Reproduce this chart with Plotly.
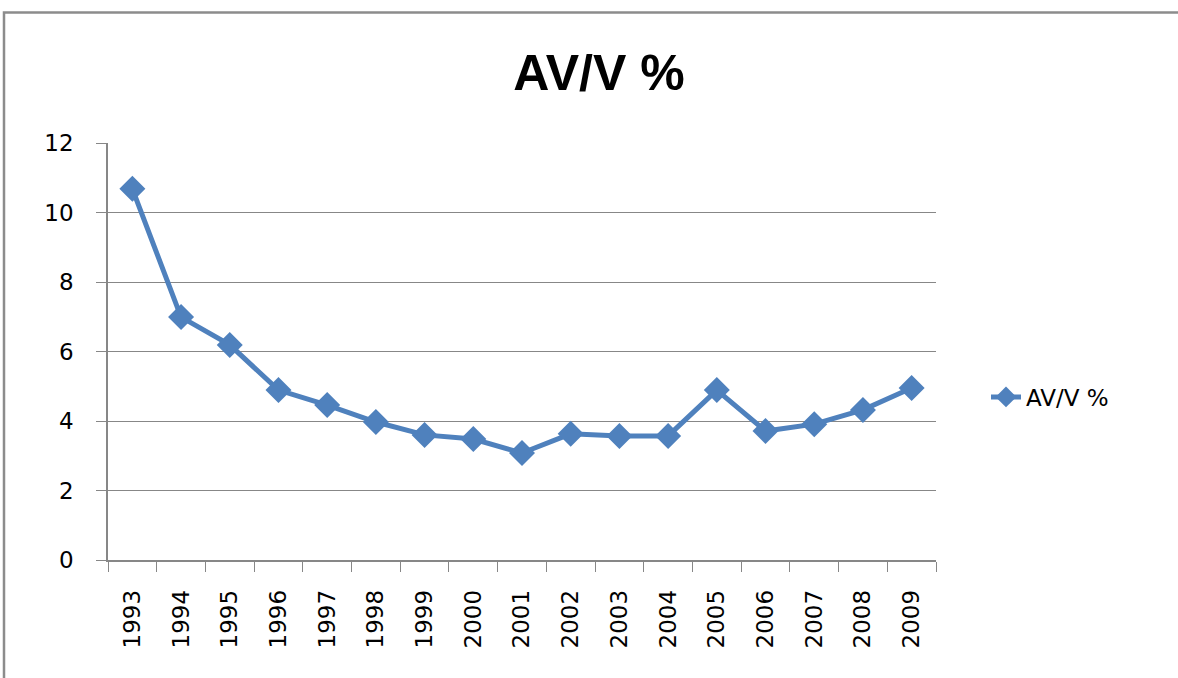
import plotly.graph_objects as go

years = ["1993", "1994", "1995", "1996", "1997", "1998", "1999", "2000", "2001",
         "2002", "2003", "2004", "2005", "2006", "2007", "2008", "2009"]
values = [10.68, 6.99, 6.19, 4.89, 4.46, 3.97, 3.60, 3.48, 3.08,
          3.63, 3.57, 3.57, 4.89, 3.71, 3.91, 4.32, 4.95]
series_name = "AV/V %"
title_text = "AV/V %"
y_ticks = [0, 2, 4, 6, 8, 10, 12]

W, H = 1178, 678
L, R, T, B = 108, 242, 143, 118
pw, ph = W - L - R, H - T - B

def px(x):
    return (x - L) / pw

def py(y):
    return (H - B - y) / ph

fig = go.Figure()
fig.add_trace(go.Scatter(
    x=years, y=values, name=series_name, mode="lines+markers",
    line=dict(color="#4F81BD", width=5),
    marker=dict(symbol="diamond", size=20, color="#4F81BD"),
))

axis_font = dict(family="DejaVu Sans, sans-serif", size=23, color="#000000")

fig.update_layout(
    width=W, height=H,
    margin=dict(l=L, r=R, t=T, b=B),
    paper_bgcolor="white", plot_bgcolor="white",
    title=dict(text="<b>" + title_text + "</b>", x=599 / W, xanchor="center",
               y=1 - 72 / H, yanchor="middle",
               font=dict(family="Liberation Sans, Arial, sans-serif",
                         size=50, color="#000000")),
    showlegend=True,
    legend=dict(x=px(986), y=py(397), xanchor="left", yanchor="middle",
                font=dict(family="DejaVu Sans, sans-serif", size=23, color="#000000"),
                bgcolor="rgba(0,0,0,0)"),
    xaxis=dict(type="category", range=[-0.5, len(years) - 0.5], tickson="boundaries",
               ticks="outside", ticklen=10,
               tickcolor="#878787", showline=True, linecolor="#878787", linewidth=1.5,
               showgrid=False, tickangle=-90, tickfont=axis_font, ticklabelstandoff=19),
    yaxis=dict(range=[0, 12], tickvals=y_ticks, ticks="outside", ticklen=10,
               tickcolor="#878787", showline=True, linecolor="#878787", linewidth=1.5,
               showgrid=True, gridcolor="#878787", gridwidth=1, zeroline=False,
               tickfont=axis_font, ticklabelstandoff=18),
    shapes=[dict(type="rect", xref="paper", yref="paper",
                 x0=px(4), x1=px(1190), y0=py(700), y1=py(12.5),
                 line=dict(color="#8C8C8C", width=2.5), fillcolor="rgba(0,0,0,0)", layer="below")],
)

fig.write_html("out.html", config={"displayModeBar": False},
               post_script="document.body.style.margin='0';document.body.style.overflow='hidden';")
